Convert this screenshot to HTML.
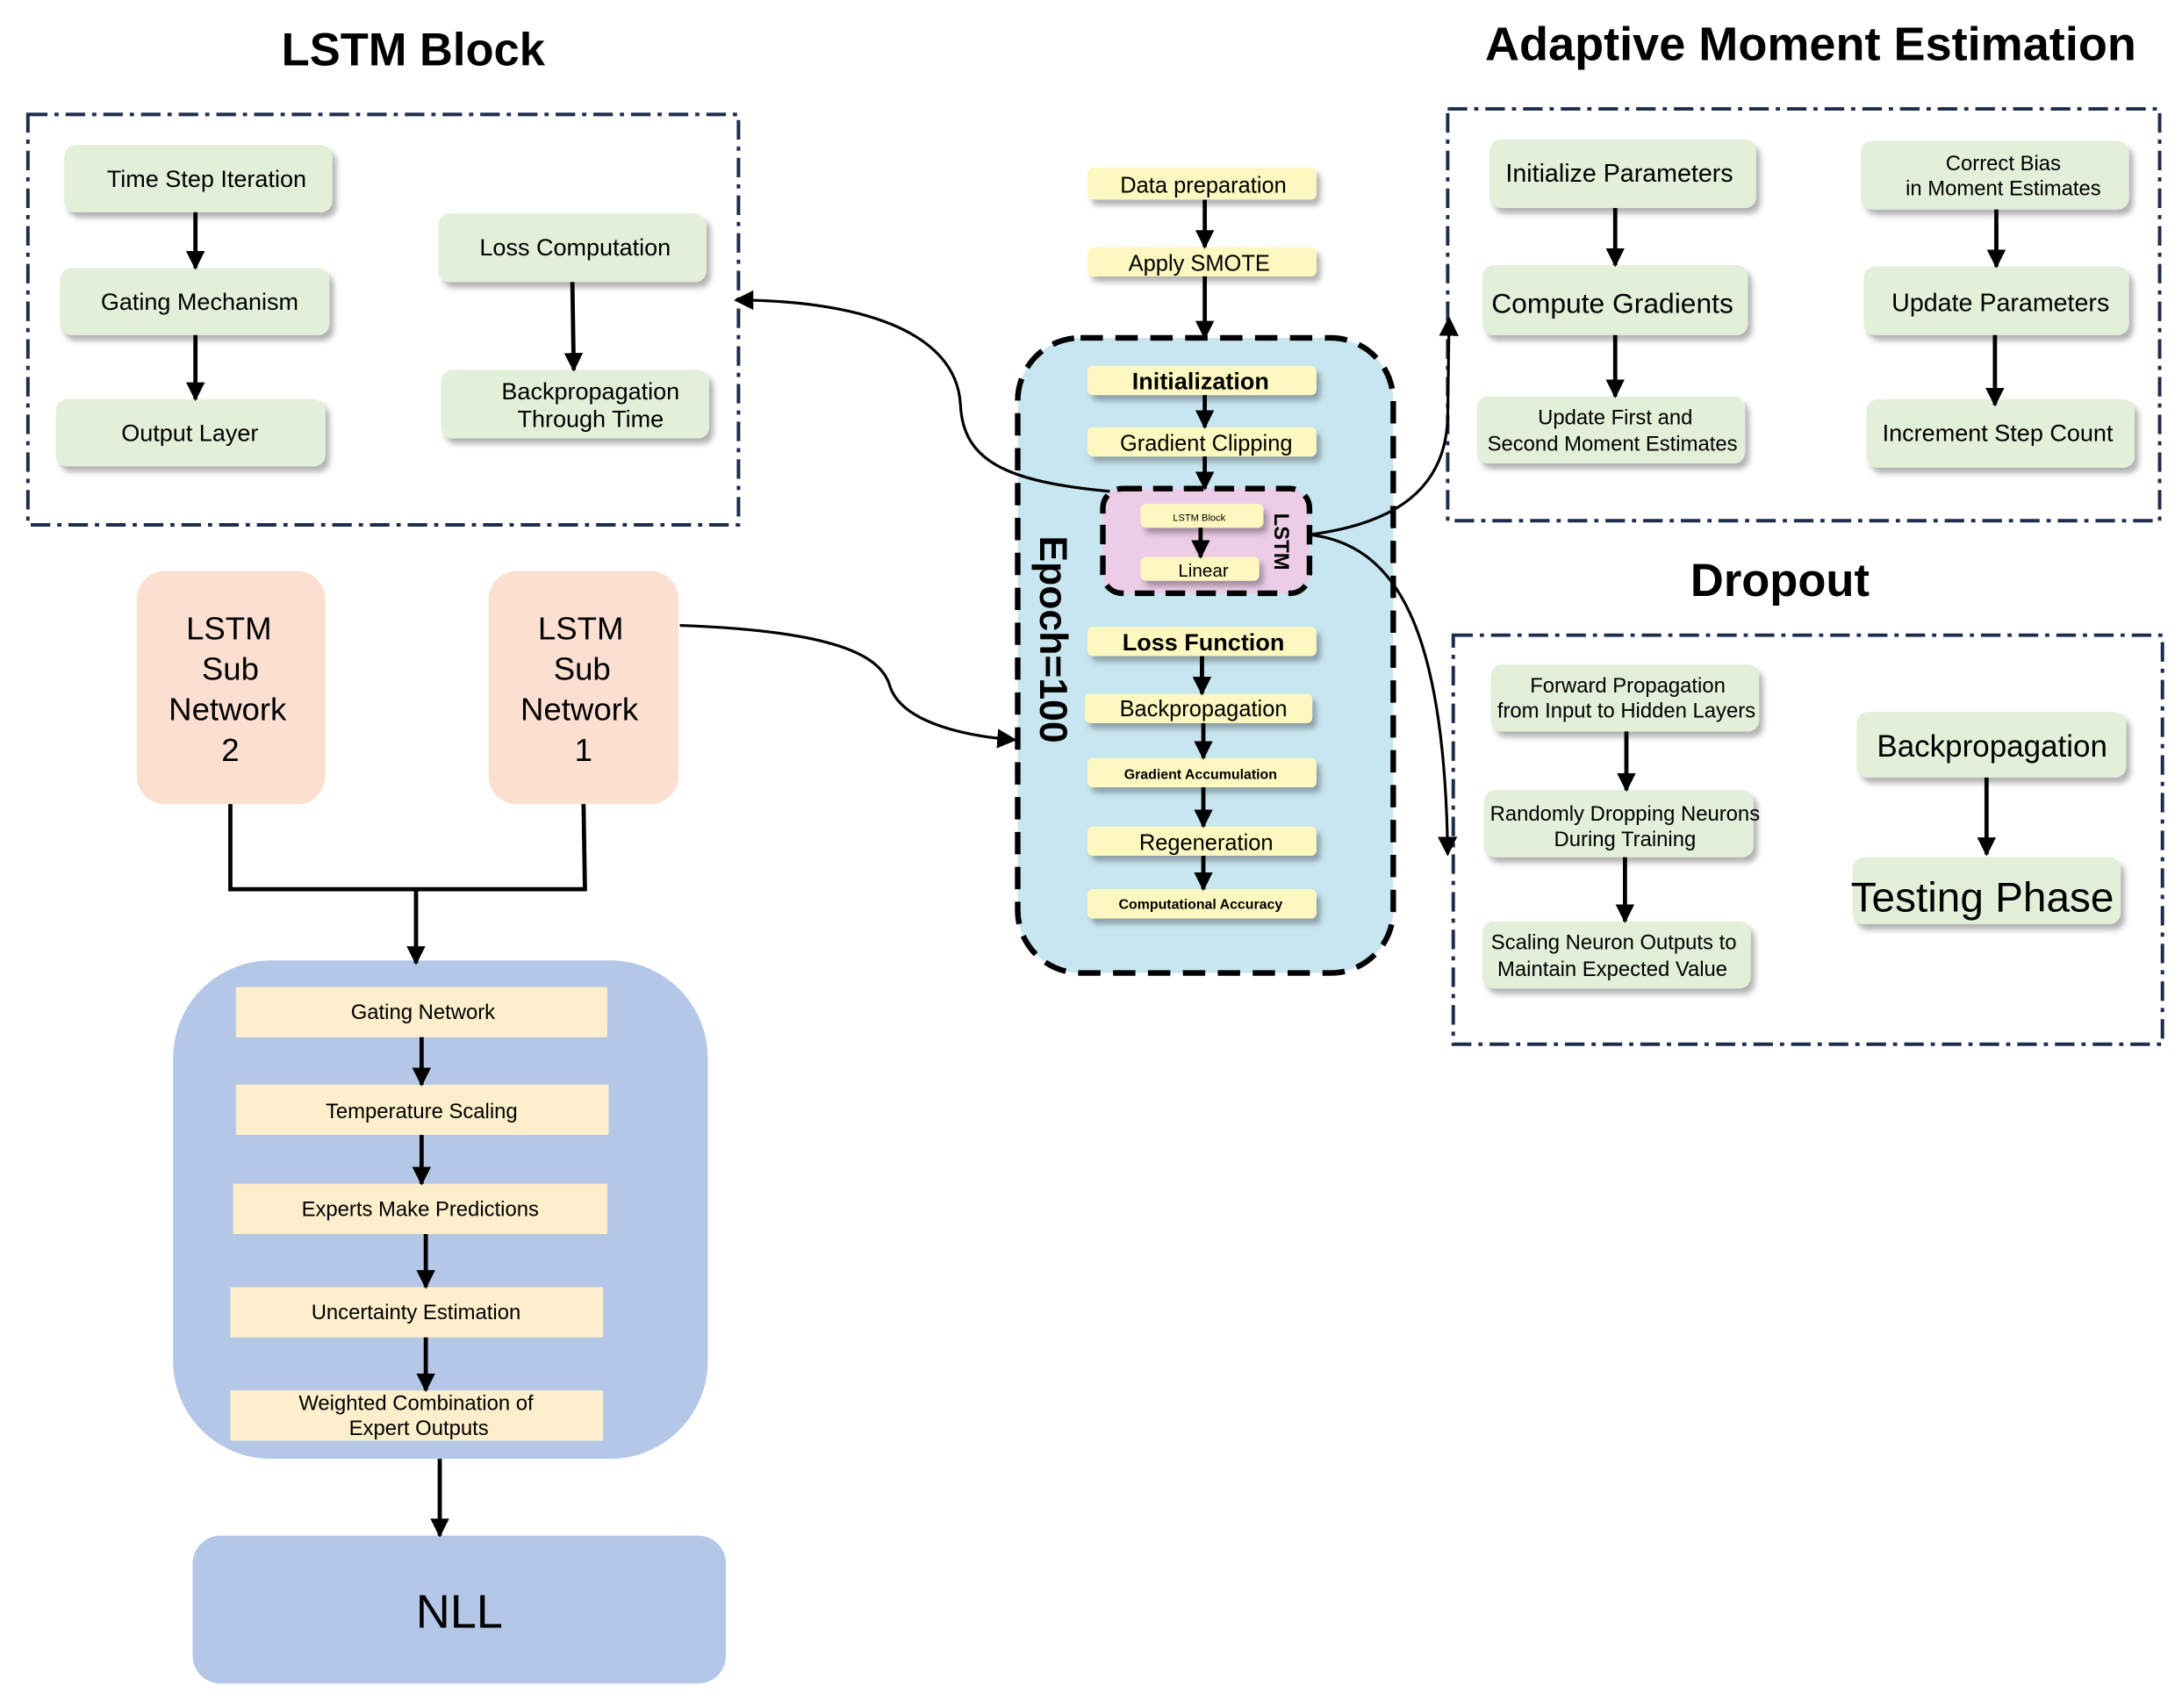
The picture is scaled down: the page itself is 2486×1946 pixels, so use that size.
<!DOCTYPE html>
<html><head><meta charset="utf-8"><style>
html,body{margin:0;padding:0;background:#fff}
svg{display:block}
text{font-family:"Liberation Sans",Arial,sans-serif;fill:#000}
</style></head><body>
<svg width="2486" height="1946" viewBox="0 0 1563 1223.5" preserveAspectRatio="none" xmlns="http://www.w3.org/2000/svg">
<defs>
<marker id="ah" viewBox="0 0 10 10" refX="9" refY="5" markerWidth="4.5" markerHeight="4.5" orient="auto-start-reverse"><path d="M0,0 L10,5 L0,10 z" fill="#000"/></marker>
<marker id="ah2" viewBox="0 0 10 10" refX="9" refY="5" markerWidth="7" markerHeight="7" orient="auto"><path d="M0,0 L10,5 L0,10 z" fill="#000"/></marker>
<filter id="sh" x="-10%" y="-20%" width="125%" height="150%"><feDropShadow dx="3" dy="4" stdDeviation="2" flood-color="#000" flood-opacity="0.3"/></filter>
</defs>
<g fill="none" stroke="#1f2d4d" stroke-width="2.5" stroke-dasharray="14,5,3,5">
<rect x="20" y="82" width="509" height="294"/>
<rect x="1037" y="78" width="510" height="295"/>
<rect x="1041" y="455" width="508" height="293"/>
</g>
<text x="296" y="47" font-size="33" font-weight="bold" text-anchor="middle">LSTM Block</text>
<text x="1297" y="43" font-size="34" font-weight="bold" text-anchor="middle">Adaptive Moment Estimation</text>
<text x="1275" y="427" font-size="33" font-weight="bold" text-anchor="middle">Dropout</text>

<g fill="#e2efd9" filter="url(#sh)">
<rect x="46" y="104" width="192" height="48" rx="8"/>
<rect x="43" y="192" width="193" height="48" rx="8"/>
<rect x="40" y="286" width="193" height="48" rx="8"/>
<rect x="314" y="153" width="192" height="49" rx="8"/>
<rect x="316" y="265" width="192" height="49" rx="8"/>
<rect x="1067" y="100" width="191" height="49" rx="8"/>
<rect x="1333" y="101" width="192" height="49" rx="8"/>
<rect x="1062" y="190" width="190" height="50" rx="8"/>
<rect x="1335" y="191" width="190" height="49" rx="8"/>
<rect x="1058" y="284" width="192" height="48" rx="8"/>
<rect x="1337" y="286" width="192" height="49" rx="8"/>
<rect x="1068" y="476" width="192" height="48" rx="8"/>
<rect x="1063" y="566" width="193" height="48" rx="8"/>
<rect x="1062" y="660" width="192" height="48" rx="8"/>
<rect x="1330" y="510" width="193" height="47" rx="8"/>
<rect x="1327" y="614" width="192" height="48" rx="8"/>
</g>
<g font-size="17" text-anchor="middle">
<text x="148" y="134">Time Step Iteration</text>
<text x="143" y="222">Gating Mechanism</text>
<text x="136" y="316">Output Layer</text>
<text x="412" y="183">Loss Computation</text>
<text x="423" y="286">Backpropagation</text>
<text x="423" y="306">Through Time</text>
<text x="1160" y="130" font-size="18">Initialize Parameters</text>
<text x="1435" y="122" font-size="15">Correct Bias</text>
<text x="1435" y="140" font-size="15">in Moment Estimates</text>
<text x="1155" y="224" font-size="20">Compute Gradients</text>
<text x="1433" y="223" font-size="18">Update Parameters</text>
<text x="1157" y="304" font-size="15">Update First and</text>
<text x="1155" y="323" font-size="15">Second Moment Estimates</text>
<text x="1431" y="316" font-size="17">Increment Step Count</text>
<text x="1166" y="496" font-size="15">Forward Propagation</text>
<text x="1165" y="514" font-size="15">from Input to Hidden Layers</text>
<text x="1164" y="588" font-size="15">Randomly Dropping Neurons</text>
<text x="1164" y="606" font-size="15">During Training</text>
<text x="1156" y="680" font-size="15">Scaling Neuron Outputs to</text>
<text x="1155" y="699" font-size="15">Maintain Expected Value</text>
<text x="1427" y="542" font-size="22">Backpropagation</text>
<text x="1420" y="653" font-size="30">Testing Phase</text>
</g>

<rect x="729" y="242" width="269" height="455" rx="45" fill="#c8e6f0" stroke="#000" stroke-width="4" stroke-dasharray="16,9"/>
<g fill="#fdf8bf" filter="url(#sh)">
<rect x="779" y="120" width="164" height="23" rx="4"/>
<rect x="779" y="177" width="164" height="21" rx="4"/>
<rect x="779" y="262" width="164" height="21" rx="4"/>
<rect x="779" y="306" width="164" height="21" rx="4"/>
</g>
<rect x="790" y="350" width="148" height="75" rx="14" fill="#ecccE6" stroke="#000" stroke-width="4" stroke-dasharray="14,8"/>
<g fill="#fdf8bf" filter="url(#sh)">
<rect x="817" y="361" width="88" height="17" rx="4"/>
<rect x="817" y="399" width="85" height="17" rx="4"/>
<rect x="779" y="449" width="164" height="21" rx="4"/>
<rect x="777" y="497" width="163" height="21" rx="4"/>
<rect x="779" y="543" width="164" height="21" rx="4"/>
<rect x="779" y="592" width="164" height="21" rx="4"/>
<rect x="779" y="637" width="164" height="21" rx="4"/>
</g>
<g text-anchor="middle">
<text x="862" y="138" font-size="16">Data preparation</text>
<text x="859" y="194" font-size="16">Apply SMOTE</text>
<text x="860" y="279" font-size="17" font-weight="bold">Initialization</text>
<text x="864" y="323" font-size="16">Gradient Clipping</text>
<text x="859" y="373" font-size="7">LSTM Block</text>
<text x="862" y="413" font-size="13">Linear</text>
<text x="862" y="466" font-size="17" font-weight="bold">Loss Function</text>
<text x="862" y="513" font-size="16">Backpropagation</text>
<text x="860" y="558" font-size="10" font-weight="bold">Gradient Accumulation</text>
<text x="864" y="609" font-size="16">Regeneration</text>
<text x="860" y="651" font-size="10" font-weight="bold">Computational Accuracy</text>
<text transform="translate(913,388) rotate(90)" font-size="15" font-weight="bold">LSTM</text>
<text transform="translate(745,458) rotate(90)" font-size="28" font-weight="bold">Epoch=100</text>
<text transform="translate(461,819) rotate(90)" font-size="28" font-weight="bold">MOE</text>
</g>

<g fill="#fbe0d2">
<rect x="98" y="409" width="135" height="167" rx="20"/>
<rect x="350" y="409" width="136" height="167" rx="20"/>
</g>
<g font-size="23" text-anchor="middle">
<text x="164" y="458">LSTM</text><text x="165" y="487">Sub</text><text x="163" y="516">Network</text><text x="165" y="545">2</text>
<text x="416" y="458">LSTM</text><text x="417" y="487">Sub</text><text x="415" y="516">Network</text><text x="418" y="545">1</text>
</g>
<rect x="124" y="688" width="383" height="357" rx="70" fill="#b4c7e7"/>
<g fill="#fdefcb">
<rect x="169" y="707" width="266" height="36"/>
<rect x="169" y="777" width="267" height="36"/>
<rect x="167" y="848" width="268" height="36"/>
<rect x="165" y="922" width="267" height="36"/>
<rect x="165" y="996" width="267" height="36"/>
</g>
<g font-size="15" text-anchor="middle">
<text x="303" y="730">Gating Network</text>
<text x="302" y="801">Temperature Scaling</text>
<text x="301" y="871">Experts Make Predictions</text>
<text x="298" y="945">Uncertainty Estimation</text>
<text x="298" y="1010">Weighted Combination of</text>
<text x="300" y="1028">Expert Outputs</text>
</g>
<rect x="138" y="1100" width="382" height="106" rx="20" fill="#b4c7e7"/>
<text x="329" y="1166" font-size="34" text-anchor="middle">NLL</text>

<g stroke="#000" stroke-width="3" fill="none" marker-end="url(#ah)">
<line x1="140" y1="152" x2="140" y2="192"/>
<line x1="140" y1="240" x2="140" y2="286"/>
<line x1="410" y1="202" x2="411" y2="265"/>
<line x1="1157" y1="149" x2="1157" y2="190"/>
<line x1="1157" y1="240" x2="1157" y2="284"/>
<line x1="1430" y1="150" x2="1430" y2="191"/>
<line x1="1429" y1="240" x2="1429" y2="290"/>
<line x1="1165" y1="524" x2="1165" y2="566"/>
<line x1="1164" y1="614" x2="1164" y2="660"/>
<line x1="1423" y1="557" x2="1423" y2="612"/>
<line x1="863" y1="143" x2="863" y2="177"/>
<line x1="863" y1="198" x2="863" y2="242"/>
<line x1="863" y1="283" x2="863" y2="306"/>
<line x1="863" y1="327" x2="863" y2="350"/>
<line x1="860" y1="378" x2="860" y2="399"/>
<line x1="861" y1="470" x2="861" y2="497"/>
<line x1="862" y1="518" x2="862" y2="543"/>
<line x1="862" y1="564" x2="862" y2="592"/>
<line x1="862" y1="613" x2="862" y2="637"/>
<line x1="302" y1="743" x2="302" y2="777"/>
<line x1="302" y1="813" x2="302" y2="848"/>
<line x1="305" y1="884" x2="305" y2="922"/>
<line x1="305" y1="958" x2="305" y2="996"/>
<line x1="315" y1="1045" x2="315" y2="1100"/>
<line x1="298" y1="637" x2="298" y2="690"/>
</g>
<path d="M165,576 L165,637 L419,637 L418,576" stroke="#000" stroke-width="3" fill="none"/>
<g stroke="#000" stroke-width="2" fill="none" marker-end="url(#ah2)">
<path d="M795,352 C720,345 690,330 688,290 C685,235 610,215 527,215"/>
<path d="M938,383 C1000,375 1035,350 1037,300 L1038,228"/>
<path d="M938,383 C1000,390 1035,450 1037,612"/>
<path d="M487,448 C600,452 630,470 637,490 C645,520 700,528 727,530"/>
</g>
</svg>
</body></html>
